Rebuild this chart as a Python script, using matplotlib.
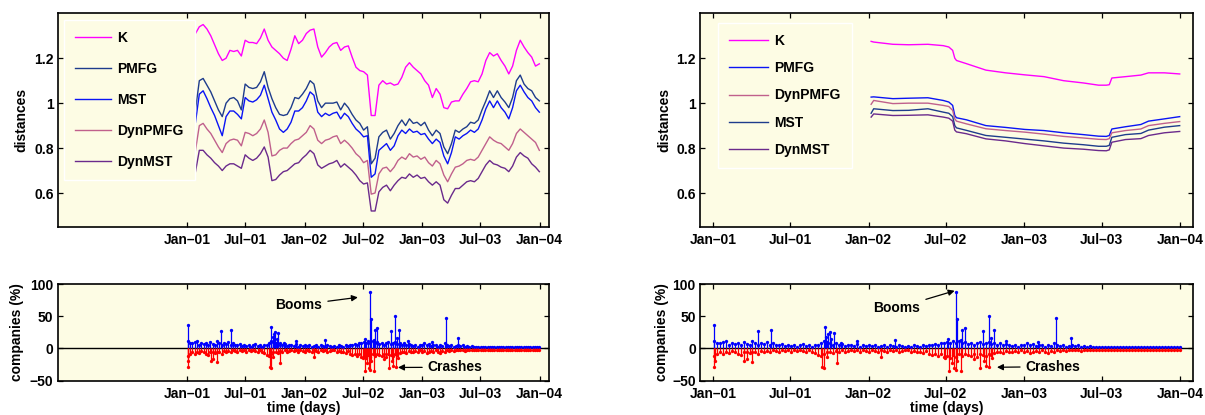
import numpy as np
import pandas as pd
import matplotlib
matplotlib.use('Agg')
import matplotlib.pyplot as plt
import matplotlib.dates as mdates
from matplotlib.ticker import FixedLocator, FixedFormatter

plt.rcParams['font.family'] = ['Liberation Sans', 'DejaVu Sans']
plt.rcParams['font.weight'] = 'bold'
plt.rcParams['axes.labelweight'] = 'bold'

# ---------------- data: top-left panel (rolling window) ----------------
left_start, left_end = '2001-01-27', '2003-12-31'
K_left = [1.31, 1.34, 1.35, 1.33, 1.30, 1.26, 1.22, 1.19, 1.20, 1.235, 1.23, 1.235, 1.21,
          1.28, 1.27, 1.27, 1.265, 1.29, 1.33, 1.28, 1.25, 1.235, 1.22, 1.20, 1.19, 1.24,
          1.30, 1.265, 1.28, 1.31, 1.325, 1.33, 1.25, 1.205, 1.225, 1.25, 1.265, 1.27, 1.235,
          1.25, 1.255, 1.205, 1.16, 1.145, 1.14, 1.125, 0.945, 0.945, 1.08, 1.10, 1.085, 1.09,
          1.08, 1.085, 1.115, 1.16, 1.18, 1.16, 1.145, 1.13, 1.10, 1.08, 1.025, 1.065, 1.04,
          0.98, 0.975, 1.005, 1.01, 1.01, 1.04, 1.065, 1.095, 1.10, 1.095, 1.13, 1.19, 1.225,
          1.21, 1.22, 1.19, 1.165, 1.13, 1.165, 1.235, 1.28, 1.25, 1.225, 1.205, 1.165, 1.175]
PMFG_left = [0.97, 1.10, 1.11, 1.08, 1.05, 1.01, 0.97, 0.94, 1.00, 1.02, 1.025, 1.01, 0.97,
             1.085, 1.07, 1.065, 1.07, 1.095, 1.14, 1.07, 1.02, 0.98, 0.95, 0.945, 0.95, 0.98,
             1.025, 1.02, 1.04, 1.065, 1.10, 1.085, 1.01, 0.98, 1.00, 1.00, 1.00, 1.005, 0.97,
             1.00, 0.98, 0.95, 0.925, 0.91, 0.88, 0.895, 0.73, 0.755, 0.85, 0.87, 0.88, 0.84,
             0.865, 0.90, 0.925, 0.90, 0.93, 0.91, 0.915, 0.90, 0.915, 0.88, 0.855, 0.88, 0.865,
             0.805, 0.775, 0.82, 0.88, 0.87, 0.885, 0.895, 0.915, 0.91, 0.925, 0.97, 1.01, 1.055,
             1.025, 1.055, 1.025, 1.005, 0.98, 1.025, 1.10, 1.125, 1.085, 1.065, 1.055, 1.025, 1.01]
MST_left = [0.915, 1.04, 1.055, 1.02, 0.98, 0.945, 0.90, 0.855, 0.94, 0.965, 0.965, 0.95, 0.93,
            1.025, 1.01, 1.005, 1.015, 1.035, 1.08, 1.02, 0.96, 0.925, 0.885, 0.87, 0.885, 0.915,
            0.965, 0.965, 0.98, 1.01, 1.05, 1.035, 0.96, 0.94, 0.955, 0.945, 0.955, 0.96, 0.93,
            0.955, 0.94, 0.91, 0.885, 0.87, 0.85, 0.855, 0.67, 0.685, 0.79, 0.805, 0.82, 0.79,
            0.81, 0.855, 0.88, 0.865, 0.885, 0.87, 0.875, 0.86, 0.865, 0.84, 0.82, 0.84, 0.825,
            0.765, 0.73, 0.78, 0.85, 0.84, 0.855, 0.865, 0.88, 0.87, 0.885, 0.925, 0.975, 1.01,
            0.98, 1.01, 0.98, 0.96, 0.93, 0.98, 1.055, 1.08, 1.05, 1.025, 1.01, 0.98, 0.96]
DynPMFG_left = [0.79, 0.90, 0.91, 0.885, 0.865, 0.835, 0.805, 0.78, 0.82, 0.835, 0.84, 0.835, 0.81,
                0.87, 0.865, 0.855, 0.865, 0.885, 0.925, 0.87, 0.765, 0.77, 0.79, 0.80, 0.80, 0.82,
                0.835, 0.84, 0.855, 0.87, 0.90, 0.885, 0.835, 0.82, 0.835, 0.84, 0.85, 0.855, 0.82,
                0.835, 0.82, 0.80, 0.775, 0.76, 0.735, 0.745, 0.595, 0.60, 0.685, 0.71, 0.715, 0.695,
                0.715, 0.745, 0.76, 0.75, 0.775, 0.76, 0.765, 0.75, 0.76, 0.735, 0.72, 0.745, 0.73,
                0.68, 0.65, 0.685, 0.715, 0.72, 0.73, 0.745, 0.75, 0.745, 0.76, 0.79, 0.82, 0.85,
                0.835, 0.825, 0.82, 0.805, 0.79, 0.82, 0.865, 0.885, 0.87, 0.855, 0.84, 0.825, 0.79]
DynMST_left = [0.695, 0.79, 0.79, 0.77, 0.755, 0.735, 0.72, 0.70, 0.72, 0.73, 0.73, 0.72, 0.71,
               0.77, 0.755, 0.745, 0.755, 0.775, 0.805, 0.76, 0.655, 0.66, 0.68, 0.695, 0.70, 0.715,
               0.73, 0.735, 0.755, 0.77, 0.79, 0.775, 0.725, 0.71, 0.72, 0.73, 0.735, 0.745, 0.715,
               0.73, 0.715, 0.70, 0.68, 0.655, 0.64, 0.645, 0.52, 0.52, 0.605, 0.625, 0.635, 0.61,
               0.635, 0.655, 0.67, 0.665, 0.685, 0.67, 0.68, 0.665, 0.67, 0.65, 0.635, 0.65, 0.635,
               0.57, 0.555, 0.59, 0.62, 0.62, 0.635, 0.65, 0.655, 0.65, 0.665, 0.695, 0.725, 0.745,
               0.73, 0.725, 0.715, 0.71, 0.695, 0.72, 0.76, 0.78, 0.765, 0.755, 0.73, 0.715, 0.695]

# ---------------- data: top-right panel (growing window) ----------------
right_dates = ['2002-01-07', '2002-01-13', '2002-02-27', '2002-04-05', '2002-05-20', '2002-06-25',
               '2002-07-08', '2002-07-17', '2002-07-22', '2002-07-26', '2002-08-18', '2002-10-03',
               '2002-11-18', '2003-01-02', '2003-02-16', '2003-04-03', '2003-05-19', '2003-06-24',
               '2003-07-12', '2003-07-19', '2003-07-25', '2003-08-26', '2003-10-01', '2003-10-19',
               '2003-11-25', '2003-12-31']
K_right = [1.275, 1.272, 1.262, 1.260, 1.262, 1.256, 1.250, 1.235, 1.200, 1.190, 1.176, 1.147,
           1.135, 1.126, 1.118, 1.100, 1.090, 1.080, 1.080, 1.082, 1.112, 1.118, 1.125, 1.135,
           1.135, 1.130]
PMFG_right = [1.027, 1.028, 1.020, 1.022, 1.024, 1.012, 1.005, 0.990, 0.945, 0.935, 0.926, 0.900,
              0.892, 0.883, 0.878, 0.868, 0.860, 0.853, 0.852, 0.856, 0.885, 0.895, 0.905, 0.920,
              0.930, 0.940]
DynPMFG_right = [0.995, 1.012, 0.998, 1.000, 1.000, 0.990, 0.985, 0.968, 0.930, 0.920, 0.908, 0.886,
                 0.878, 0.871, 0.862, 0.852, 0.845, 0.839, 0.838, 0.842, 0.868, 0.878, 0.885, 0.900,
                 0.910, 0.918]
MST_right = [0.955, 0.975, 0.967, 0.968, 0.975, 0.960, 0.955, 0.940, 0.900, 0.890, 0.879, 0.856,
             0.848, 0.840, 0.832, 0.822, 0.815, 0.808, 0.808, 0.812, 0.848, 0.860, 0.865, 0.880,
             0.893, 0.900]
DynMST_right = [0.938, 0.952, 0.945, 0.946, 0.948, 0.938, 0.933, 0.920, 0.880, 0.872, 0.864, 0.841,
                0.832, 0.820, 0.810, 0.800, 0.795, 0.789, 0.788, 0.792, 0.826, 0.838, 0.842, 0.856,
                0.868, 0.874]

# ---------------- data: booms / crashes (% of companies) ----------------
week_start, week_end = '2001-01-03', '2003-12-31'
booms_weekly = [11, 9, 8, 10, 12, 6, 9, 7, 8, 5, 10, 7, 6, 11, 9, 6, 8, 7, 10, 5, 9, 6, 5, 7, 4, 5,
                4, 6, 3, 5, 7, 4, 5, 3, 6, 5, 9, 12, 10, 8, 6, 9, 5, 7, 4, 6, 5, 4, 7, 3, 5, 4,
                5, 4, 6, 3, 4, 5, 3, 6, 4, 3, 5, 4, 3, 4, 3, 5, 4, 3, 5, 4, 6, 5, 7, 6, 9, 8,
                10, 8, 12, 9, 11, 8, 10, 7, 9, 6, 8, 10, 7, 8, 10, 7, 9, 6, 8, 5, 7, 5, 4, 6, 3, 5,
                6, 8, 5, 7, 4, 6, 5, 3, 6, 4, 9, 5, 4, 5, 3, 4, 6, 4, 5, 3, 4, 3, 4, 2, 3, 3,
                3, 2, 3, 2, 2, 3, 2, 2, 3, 2, 2, 3, 2, 2, 2, 3, 2, 2, 3, 2, 2, 2, 3, 2, 2, 2, 2]
crashes_weekly = [-12, -8, -6, -9, -5, -7, -4, -6, -8, -10, -6, -5, -7, -6, -5, -8, -4, -5, -4, -6, -3,
                  -4, -5, -3, -4, -3, -5, -3, -4, -3, -4, -6, -3, -5, -7, -10, -12, -8, -6, -5, -7,
                  -4, -6, -3, -5, -4, -3, -4, -3, -5, -3, -4,
                  -5, -3, -4, -6, -3, -4, -5, -3, -4, -3, -5, -4, -3, -3, -5, -4, -6, -5, -7, -4,
                  -8, -10, -8, -12, -9, -14, -12, -15, -10, -13, -9, -12, -8, -10, -11, -8, -13, -9,
                  -10, -12, -8, -10, -7, -6, -5, -7, -4, -5, -6, -4, -5, -3,
                  -6, -4, -7, -5, -4, -6, -3, -5, -7, -4, -5, -3, -4, -3, -4, -3, -2, -3, -2, -4,
                  -3, -2, -3, -2, -3, -2, -3, -2, -2, -3, -2, -3, -2, -2, -3, -2, -3, -2, -2, -2,
                  -3, -2, -2, -3, -2, -2, -3, -2, -3, -2, -2, -3, -2]
boom_spike_dates = ['2001-01-03', '2001-04-17', '2001-05-17', '2001-09-20', '2001-09-24', '2001-09-28',
                    '2001-10-02', '2001-10-06', '2001-10-11', '2001-10-28', '2001-12-06', '2002-03-04',
                    '2002-07-07', '2002-07-24', '2002-07-27', '2002-08-05', '2002-08-09', '2002-08-15',
                    '2002-09-27', '2002-10-10', '2002-10-14', '2002-10-21', '2002-11-18', '2003-02-01',
                    '2003-03-17', '2003-04-21']
boom_spike_vals = [37, 27, 28, 34, 18, 22, 26, 14, 24, 8, 12, 13, 15, 87, 46, 13, 28, 32, 27, 50, 17,
                   28, 12, 10, 47, 16]
crash_spike_dates = ['2001-01-03', '2001-01-05', '2001-03-15', '2001-03-21', '2001-04-04', '2001-09-15',
                     '2001-09-19', '2001-09-26', '2001-10-18', '2002-01-29', '2002-06-30', '2002-07-08',
                     '2002-07-15', '2002-07-20', '2002-07-24', '2002-07-27', '2002-08-05', '2002-09-04',
                     '2002-09-20', '2002-09-29', '2002-10-03', '2002-10-11', '2002-10-17']
crash_spike_vals = [-28, -20, -20, -17, -21, -28, -30, -14, -23, -14, -15, -35, -22, -31, -33, -20,
                    -35, -17, -30, -20, -27, -28, -15]

tick_dates = ['2001-01-01', '2001-07-01', '2002-01-01', '2002-07-01', '2003-01-01', '2003-07-01',
              '2004-01-01']
tick_labels = ['Jan\u201301', 'Jul\u201301', 'Jan\u201302', 'Jul\u201302', 'Jan\u201303',
               'Jul\u201303', 'Jan\u201304']

# ---------------- styling ----------------
BG = '#FDFCE4'
C_K = '#FF00FF'
C_NAVY = '#1E3C8C'
C_BLUE = '#0A14F5'
C_MAUVE = '#C0608C'
C_PURPLE = '#6A2A8C'
FS = 10

W, H = 1205, 415
fig = plt.figure(figsize=(W / 100, H / 100), dpi=100)


def px_axes(l, t, r, b):
    return fig.add_axes([l / W, 1 - b / H, (r - l) / W, (b - t) / H])


ax_tl = px_axes(57.7, 13.3, 549, 226.7)
ax_tr = px_axes(700, 13.3, 1192.5, 226.7)
ax_bl = px_axes(57.7, 284, 549, 380.7)
ax_br = px_axes(700, 284, 1192.5, 380.7)

tick_num = mdates.date2num(pd.to_datetime(tick_dates))


def style(ax, xlim):
    ax.set_facecolor(BG)
    for s in ax.spines.values():
        s.set_linewidth(1.2)
    ax.set_xlim(mdates.date2num(pd.to_datetime(xlim[0])), mdates.date2num(pd.to_datetime(xlim[1])))
    ax.xaxis.set_major_locator(FixedLocator(tick_num))
    ax.xaxis.set_major_formatter(FixedFormatter(tick_labels))
    ax.tick_params(direction='in', length=3.6, width=0.9, top=True, right=True, labelsize=FS)
    ax.tick_params(axis='x', pad=4.5)
    ax.tick_params(axis='y', pad=3)
    for lab in ax.get_xticklabels() + ax.get_yticklabels():
        lab.set_fontweight('bold')


left_lim = ('1999-11-26', '2004-01-30')
right_lim = ('2000-12-02', '2004-01-30')

# top-left
dl = mdates.date2num(pd.date_range(left_start, left_end, periods=len(K_left)))
ax_tl.plot(dl, K_left, color=C_K, lw=1.0, label='K')
ax_tl.plot(dl, PMFG_left, color=C_NAVY, lw=1.0, label='PMFG')
ax_tl.plot(dl, MST_left, color=C_BLUE, lw=1.0, label='MST')
ax_tl.plot(dl, DynPMFG_left, color=C_MAUVE, lw=1.0, label='DynPMFG')
ax_tl.plot(dl, DynMST_left, color=C_PURPLE, lw=1.0, label='DynMST')

# top-right
dr = mdates.date2num(pd.to_datetime(right_dates))
ax_tr.plot(dr, K_right, color=C_K, lw=1.0, label='K')
ax_tr.plot(dr, PMFG_right, color=C_BLUE, lw=1.0, label='PMFG')
ax_tr.plot(dr, DynPMFG_right, color=C_MAUVE, lw=1.0, label='DynPMFG')
ax_tr.plot(dr, MST_right, color=C_NAVY, lw=1.0, label='MST')
ax_tr.plot(dr, DynMST_right, color=C_PURPLE, lw=1.0, label='DynMST')

for ax, lim, anchor, lsp, hl in [(ax_tl, left_lim, (0.0128, 0.9686), 1.22, 2.6),
                                 (ax_tr, right_lim, (0.0365, 0.9546), 0.95, 2.8)]:
    style(ax, lim)
    ax.set_ylim(0.45, 1.4)
    ax.yaxis.set_major_locator(FixedLocator([0.6, 0.8, 1.0, 1.2]))
    ax.yaxis.set_major_formatter(FixedFormatter(['0.6', '0.8', '1', '1.2']))
    ax.set_ylabel('distances', fontsize=FS, fontweight='bold')
    leg = ax.legend(loc='upper left', bbox_to_anchor=anchor, borderaxespad=0, fancybox=False,
                    edgecolor='white', facecolor=BG, framealpha=1, handlelength=hl,
                    handletextpad=0.45, labelspacing=lsp, borderpad=0.8,
                    prop=dict(weight='bold', size=FS))
    leg.get_frame().set_linewidth(1.0)
ax_tl.yaxis.set_label_coords(-0.0605, 0.5)
ax_tr.yaxis.set_label_coords(-0.0589, 0.5)

# bottom panels
dw = mdates.date2num(pd.date_range(week_start, week_end, periods=len(booms_weekly)))
dwc = mdates.date2num(pd.date_range(week_start, week_end, periods=len(crashes_weekly)))
bd = np.concatenate([dw, mdates.date2num(pd.to_datetime(boom_spike_dates))])
bv = np.concatenate([booms_weekly, boom_spike_vals])
cd = np.concatenate([dwc, mdates.date2num(pd.to_datetime(crash_spike_dates))])
cv = np.concatenate([crashes_weekly, crash_spike_vals])

for ax, lim in [(ax_bl, left_lim), (ax_br, right_lim)]:
    style(ax, lim)
    ax.axhline(0, color='k', lw=1.0, zorder=1)
    ax.vlines(bd, 0, bv, color='#0000FF', lw=0.9, zorder=2)
    ax.plot(bd, bv, 'o', color='#0000FF', ms=2.4, mew=0, zorder=2)
    ax.vlines(cd, 0, cv, color='#FF0000', lw=0.9, zorder=3)
    ax.plot(cd, cv, 'o', color='#FF0000', ms=2.4, mew=0, zorder=3)
    ax.set_ylim(-50, 100)
    ax.yaxis.set_major_locator(FixedLocator([-50, 0, 50, 100]))
    ax.yaxis.set_major_formatter(FixedFormatter(['\u221250', '0', '50', '100']))
    ax.set_ylabel('companies (%)', fontsize=FS, fontweight='bold')
    ax.set_xlabel('time (days)', fontsize=FS, fontweight='bold')
    ax.xaxis.set_label_coords(0.5, -0.215)
ax_bl.yaxis.set_label_coords(-0.0686, 0.5)
ax_br.yaxis.set_label_coords(-0.063, 0.5)

arrow = dict(arrowstyle='-|>', color='k', lw=0.9, mutation_scale=9, shrinkA=2, shrinkB=0)
ax_bl.annotate('Booms', xy=(0.611, 0.862), xytext=(0.491, 0.783), xycoords='axes fraction',
               textcoords='axes fraction', ha='center', va='center', fontsize=FS,
               fontweight='bold', arrowprops=arrow)
ax_bl.annotate('Crashes', xy=(0.6927, 0.137), xytext=(0.809, 0.139), xycoords='axes fraction',
               textcoords='axes fraction', ha='center', va='center', fontsize=FS,
               fontweight='bold', arrowprops=arrow)
ax_br.annotate('Booms', xy=(0.517, 0.93), xytext=(0.40, 0.752), xycoords='axes fraction',
               textcoords='axes fraction', ha='center', va='center', fontsize=FS,
               fontweight='bold', arrowprops=arrow)
ax_br.annotate('Crashes', xy=(0.603, 0.139), xytext=(0.7168, 0.145), xycoords='axes fraction',
               textcoords='axes fraction', ha='center', va='center', fontsize=FS,
               fontweight='bold', arrowprops=arrow)

fig.savefig('out.png', dpi=100)
